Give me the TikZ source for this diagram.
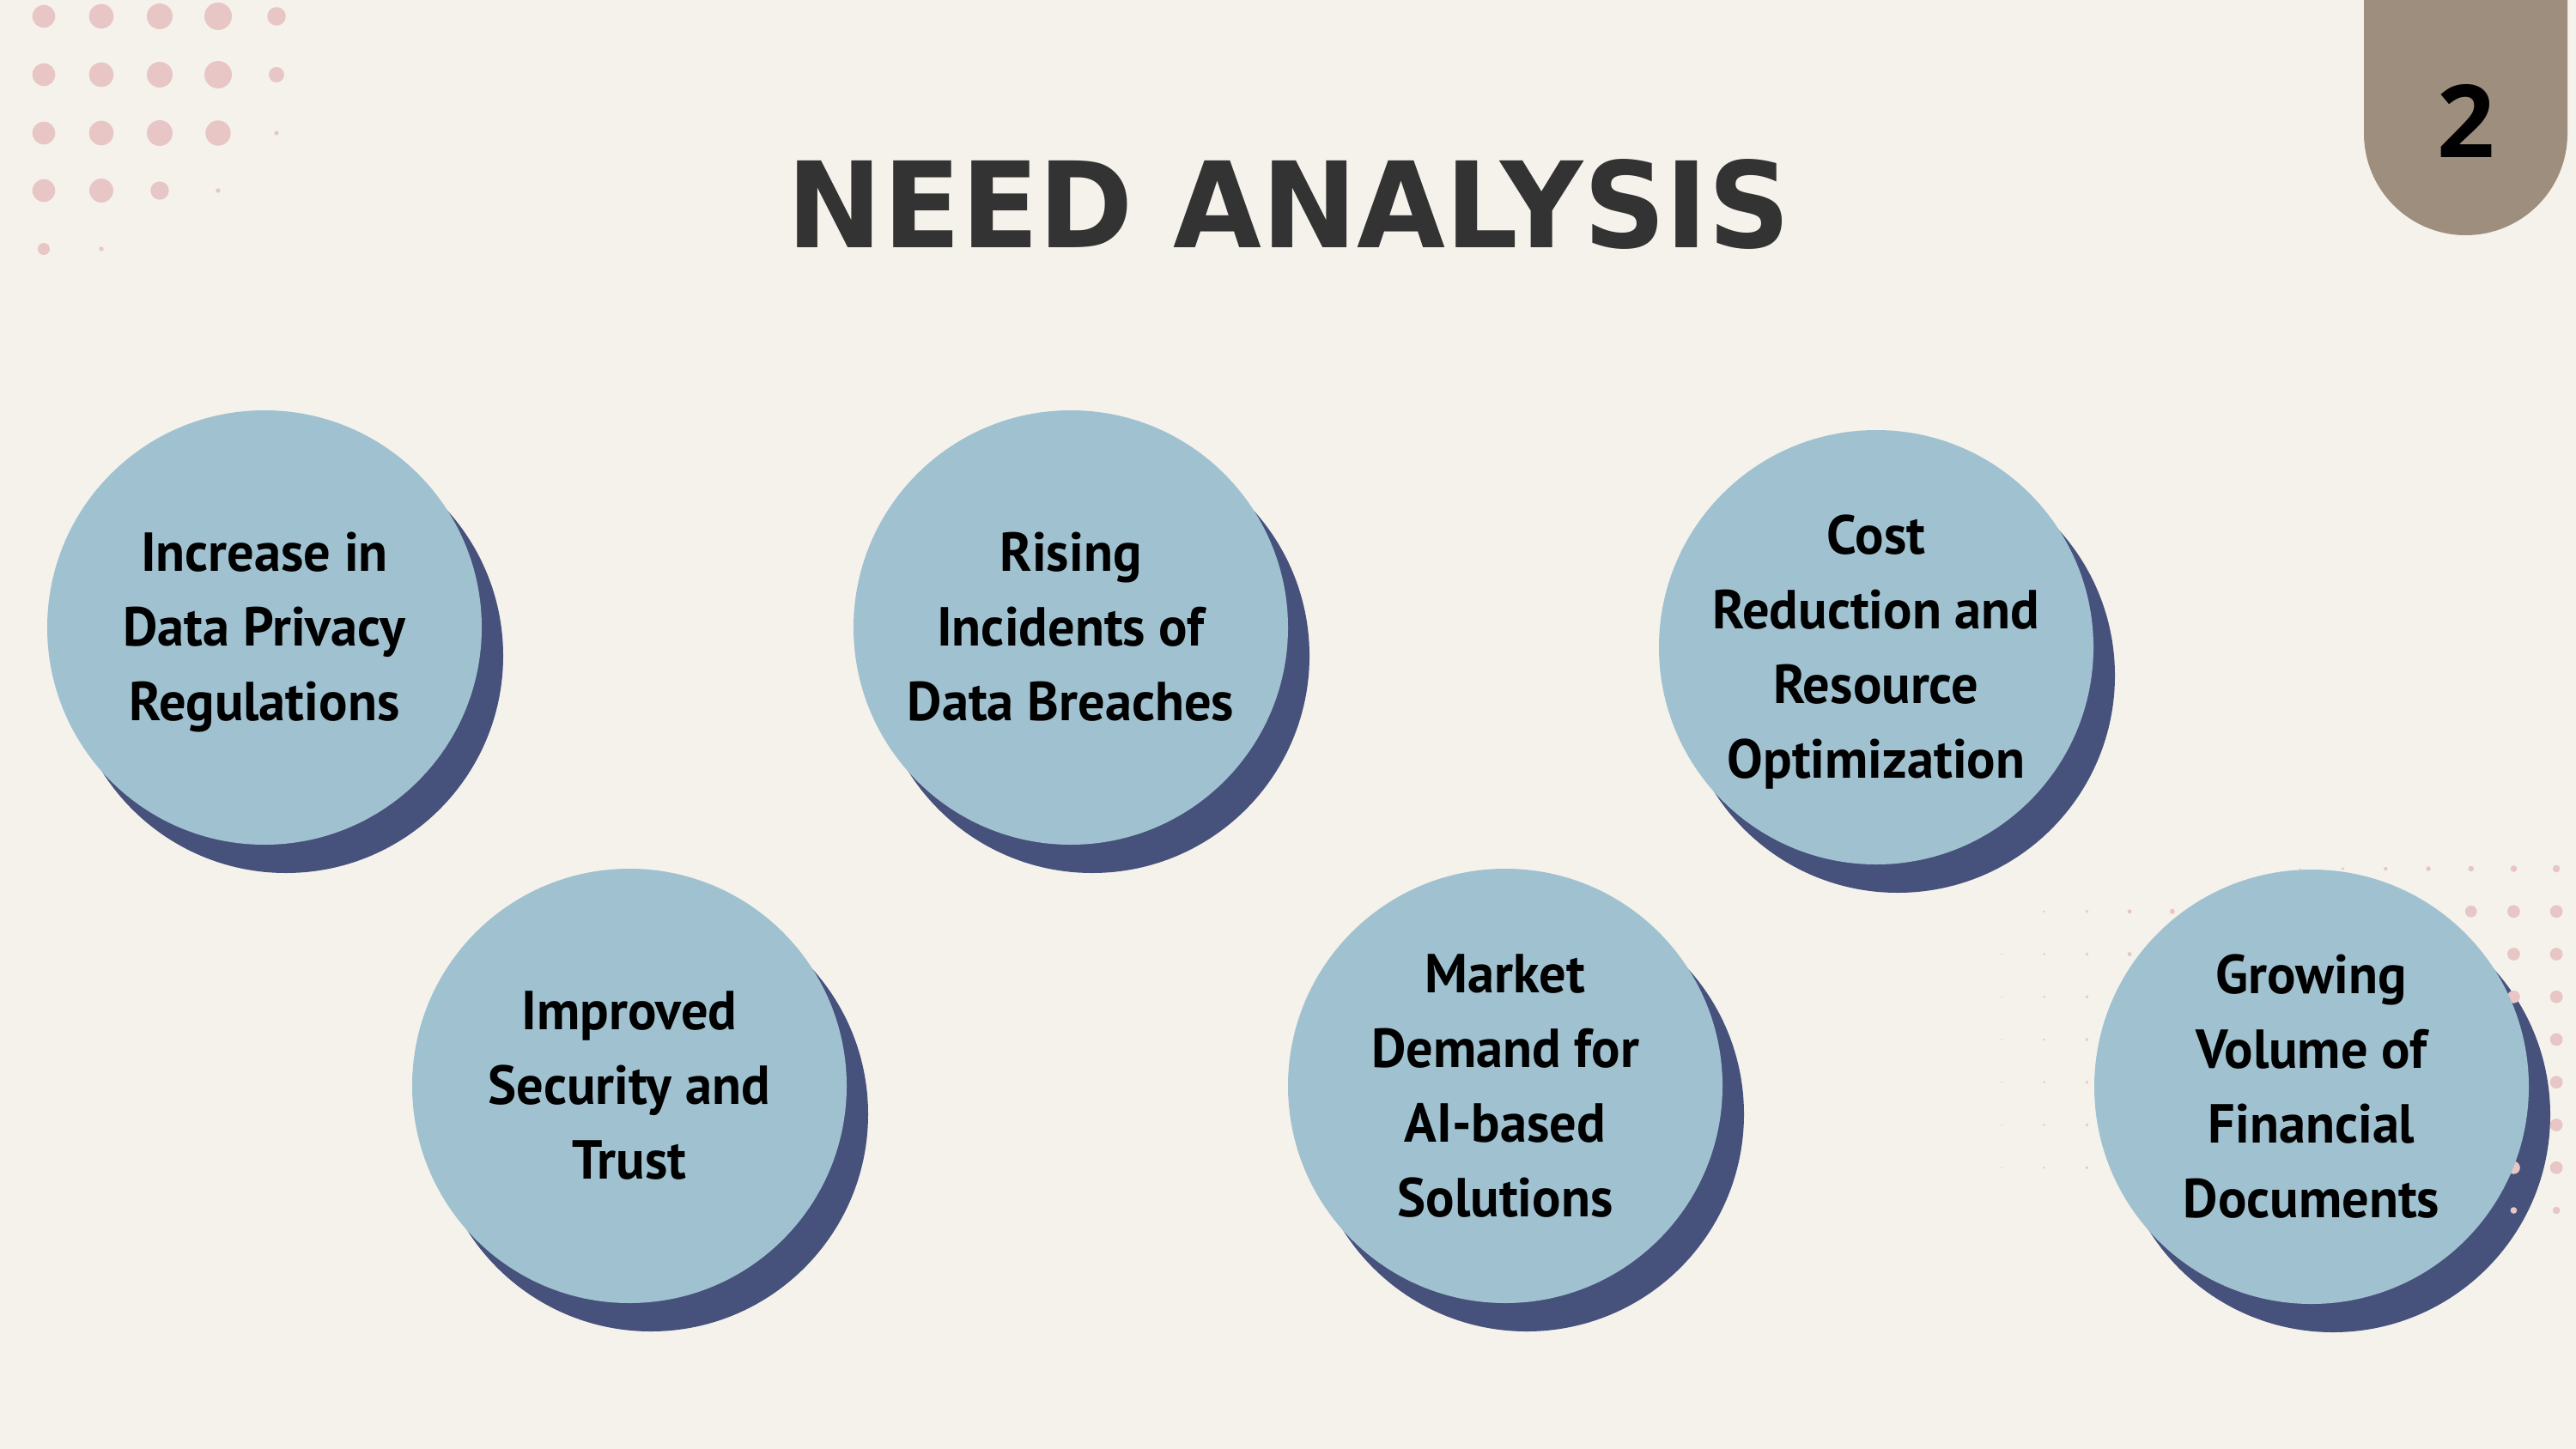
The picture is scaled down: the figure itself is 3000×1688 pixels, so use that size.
\documentclass[tikz,border=0pt]{standalone}
\usepackage{fontspec}
\usepackage{graphicx}
\setmainfont{PT Sans}
\newfontfamily\bodyfont{PT Sans}[FakeStretch=0.975]
\newfontfamily\titlefont{DejaVu Sans}
\newfontfamily\numfont{Open Sans}
\definecolor{bgc}{HTML}{F5F2EC}
\definecolor{bubblec}{HTML}{A0C2D0}
\definecolor{navyc}{HTML}{47527C}
\definecolor{tabc}{HTML}{9D8E7D}
\definecolor{titlec}{HTML}{333333}
\definecolor{dotc}{HTML}{E8C6C6}
\tikzset{
  bubble/.style={circle, fill=bubblec, minimum size=506pt, inner sep=0pt},
  shadowdisc/.style={circle, fill=navyc, minimum size=506pt, inner sep=0pt},
  bubbletext/.style={align=center, text=black, inner sep=0pt, yshift=-6pt,
    font=\bodyfont\bfseries\fontsize{64}{87}\selectfont},
  pinkdot/.style={fill=dotc}
}
\begin{document}
\begin{tikzpicture}[x=1pt,y=-1pt]
\useasboundingbox (0,0) rectangle (3000,1688);
\fill[bgc] (0,0) rectangle (3000,1688);

% top-left dot pattern
\foreach \x/\y/\r in {51/19/13.3, 118/19/14.3, 186/19/15, 254/19/16, 322/19/10.8,
  51/87/13.3, 118/87/14.3, 186/87/15, 254/87/16, 322/87/9,
  51/155/13.3, 118/155/14.3, 186/155/15, 254/155/14.7, 322/155/2.7,
  51/222/13.3, 118/222/14, 186/222/10.7, 254/222/2.7,
  51/290/7, 118/290/2.7}
  \fill[pinkdot] (\x,\y) circle[radius=\r pt];

% page tab
\fill[tabc] (2753,0) -- (2753,155.5) arc[start angle=180, end angle=360, radius=118.5pt] -- (2990,0) -- cycle;
\node[inner sep=0pt, text=black, font=\numfont\bfseries] (pagenum) at (2872,140.5) {\resizebox{!}{85pt}{2}};

% title
\node[inner sep=0pt, text=titlec, font=\titlefont\bfseries] (title) at (1501,237.5) {\resizebox{1167pt}{103pt}{NEED ANALYSIS}};

% circle centres
\coordinate (p1) at (308,731);
\coordinate (p2) at (1247,731);
\coordinate (p3) at (2185,754);
\coordinate (p4) at (733,1265);
\coordinate (p5) at (1753,1265);
\coordinate (p6) at (2692,1266);

% shadows
\foreach \i in {1,...,6}
  \node[shadowdisc, xshift=25pt, yshift=-33pt] (s\i) at (p\i) {};

% bottom-right dot pattern
\foreach \k in {0,...,13}{
  \foreach \j in {1,...,7}{
    \pgfmathsetmacro{\r}{min(7.4,0.8+0.55*\k)}
    \ifnum\j=1 \ifnum\k=0 \else
      \fill[pinkdot] ({2331+49.7*\k},{1012+49.75*\j}) circle[radius=\r pt];
    \fi\else
      \fill[pinkdot] ({2331+49.7*\k},{1012+49.75*\j}) circle[radius=\r pt];
    \fi
  }
}
\foreach \k in {6,...,13}{
  \pgfmathsetmacro{\r}{min(4.3,0.55*(\k-5))}
  \fill[pinkdot] ({2331+49.7*\k},1012) circle[radius=\r pt];
  \fill[pinkdot] ({2331+49.7*\k},1410) circle[radius=\r pt];
}

% bubbles
\foreach \i in {1,...,6}
  \node[bubble] (c\i) at (p\i) {};

% texts
\node[bubbletext] (t1) at (c1) {Increase in\\Data Privacy\\Regulations\vphantom{g}};
\node[bubbletext] (t2) at (c2) {Rising\\Incidents of\\Data Breaches\vphantom{g}};
\node[bubbletext] (t3) at (c3) {Cost\\Reduction and\\Resource\\Optimization\vphantom{g}};
\node[bubbletext] (t4) at (c4) {Improved\\Security and\\Trust\vphantom{g}};
\node[bubbletext] (t5) at (c5) {Market\\Demand for\\AI-based\\Solutions\vphantom{g}};
\node[bubbletext] (t6) at (c6) {Growing\\Volume of\\Financial\\Documents\vphantom{g}};
\end{tikzpicture}
\end{document}
